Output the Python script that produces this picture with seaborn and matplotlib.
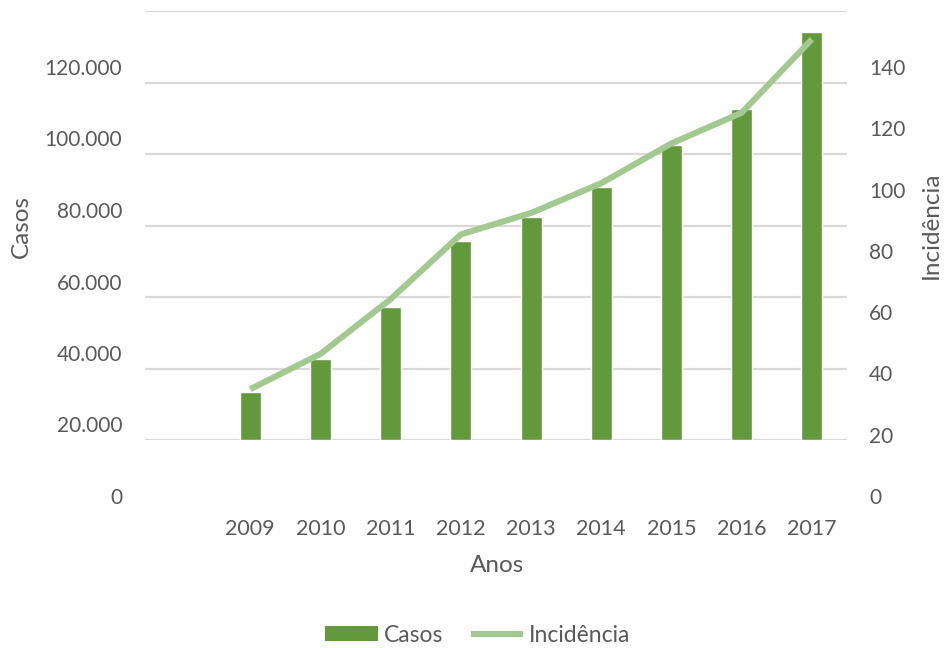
import matplotlib
matplotlib.use("Agg")
import matplotlib.pyplot as plt
import matplotlib.transforms as mtransforms
from matplotlib.patches import Patch
from matplotlib.lines import Line2D
import seaborn as sns
import pandas as pd

# ---- data ----
anos = ["2009", "2010", "2011", "2012", "2013", "2014", "2015", "2016", "2017"]
casos = [13300, 22700, 37200, 55700, 62500, 70800, 82500, 92600, 114000]
incidencia = [16.6, 28.1, 46.0, 67.1, 74.1, 83.8, 96.8, 106.8, 130.8]
ordem = [""] + anos  # empty first slot as in the reference
left_ticks = [0, 20000, 40000, 60000, 80000, 100000, 120000]
right_ticks = [0, 20, 40, 60, 80, 100, 120, 140]

df = pd.DataFrame({"Anos": anos, "Casos": casos, "Incidência": incidencia})

BAR = "#629a3b"
LINE = "#a2c98f"
TXT = "#595959"
GRID = "#d9d9d9"

sns.set_theme(style="white")
plt.rcParams["font.family"] = ["Lato", "DejaVu Sans"]

W, H = 944, 648
fig = plt.figure(figsize=(W / 100, H / 100), dpi=100)
ax = fig.add_axes([145 / W, 1 - 440 / H, 702 / W, 429 / H])

sns.barplot(data=df, x="Anos", y="Casos", order=ordem, color=BAR,
            width=0.3, saturation=1, ax=ax, zorder=2)
ax.set_ylim(0, 120000)
ax.set_yticks(left_ticks)
ax.set_yticklabels([f"{v:,}".replace(",", ".") for v in left_ticks])
ax.grid(axis="y", color=GRID, linewidth=1.6, zorder=0)
ax.set_axisbelow(True)

ax2 = ax.twinx()
sns.pointplot(data=df, x="Anos", y="Incidência", order=ordem, color=LINE,
              markers="", linestyles="-", linewidth=4.4, ax=ax2,
              solid_capstyle="butt", solid_joinstyle="round")
ax2.set_ylim(0, 140)
ax2.set_yticks(right_ticks)
ax2.set_yticklabels([str(v) for v in right_ticks])
ax2.grid(False)
ax.set_xlim(-0.5, len(ordem) - 0.5)

for a in (ax, ax2):
    for s in a.spines.values():
        s.set_visible(False)
    a.tick_params(length=0, colors=TXT, labelsize=15)

ax.tick_params(axis="x", labelsize=15.5, pad=57)
ax.tick_params(axis="y", pad=16.5)
ax2.tick_params(axis="y", pad=15.8)

# labels in the reference sit ~56 px below their gridlines
shift = mtransforms.ScaledTranslation(0, -0.56, fig.dpi_scale_trans)
for lab in ax.get_yticklabels() + ax2.get_yticklabels():
    lab.set_transform(lab.get_transform() + shift)

ax.set_xlabel("Anos", fontsize=17.5, color=TXT)
ax.xaxis.set_label_coords((497 - 145) / 702, (440 - 565) / 429)
ax.xaxis.label.set_va("center")
ax.set_ylabel("Casos", fontsize=17.5, color=TXT)
ax.yaxis.set_label_coords((21 - 145) / 702, (440 - 227) / 429)
ax.yaxis.label.set_va("center")
ax2.set_ylabel("Incidência", fontsize=17.5, color=TXT, rotation=90)
ax2.yaxis.set_label_coords((931 - 145) / 702, (440 - 225) / 429)
ax2.yaxis.label.set_va("center")

handles = [Patch(facecolor=BAR, edgecolor="none"),
           Line2D([0], [0], color=LINE, linewidth=4.4, solid_capstyle="butt")]
leg = fig.legend(handles, ["Casos", "Incidência"], loc="center",
                 bbox_to_anchor=(478 / W, 1 - 635 / H), ncol=2, frameon=False,
                 fontsize=16.5, handlelength=2.3, handleheight=0.65,
                 handletextpad=0.25, columnspacing=1.2)
for t in leg.get_texts():
    t.set_color(TXT)

fig.savefig("out.png", dpi=100)
